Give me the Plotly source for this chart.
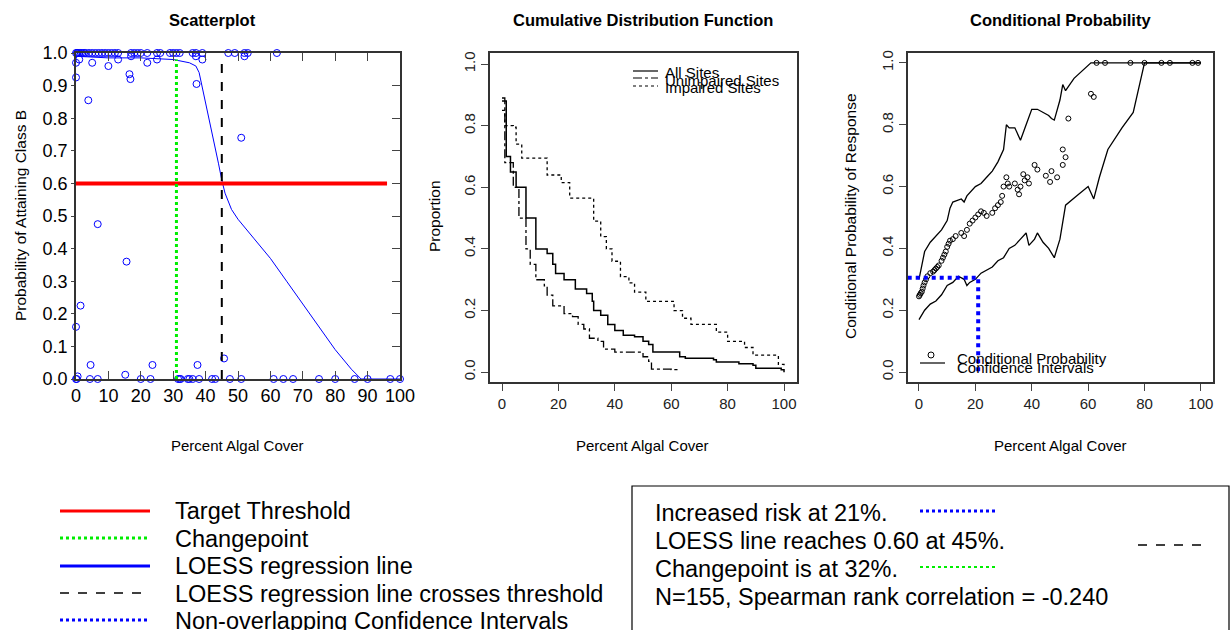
import plotly.graph_objects as go

W, H = 1230, 630
def PX(x): return x / W
def PY(y): return 1 - y / H

# ---------- data ----------
sc_x_top = [0,0.3,0.5,1,1.5,2,2.5,3,4,5,6,7,8,9,10,11,12,13,17,18,19,20,22,25,26,29,30,31,32,36,37,39,47,49,52,53,62]
sc_x_mid = [0,1,5,10,13,17,22,25,37,39,52,0,3.8,16.5,16.8,37.2,51,6.7,15.6,1.4,0,4.5,23.6,37.5,45.7,15.2,0.5]
sc_y_mid = [0.97,0.98,0.97,0.96,0.98,0.99,0.97,0.98,0.99,0.98,0.99,0.925,0.855,0.935,0.92,0.905,0.74,0.475,0.36,0.225,0.16,0.043,0.043,0.043,0.063,0.013,0.008]
sc_x_bot = [0,0.2,4.3,6.7,20,23,31.5,32,32.3,34.5,35,36,38,42,43,47.5,51,61,64,67,75,80,86,90,97,100]
loess_x = [0,10,20,30,35,37,38,40,42,44,45,46,48,50,55,60,65,70,75,80,85,88,100]
loess_y = [0.99,0.985,0.985,0.98,0.97,0.96,0.94,0.85,0.76,0.66,0.61,0.57,0.52,0.49,0.43,0.37,0.30,0.23,0.16,0.09,0.03,0.0,0.0]
target, changepoint, loess_cross, risk_x, risk_y = 0.6, 31, 45, 21, 0.305

all_x = [0,0.3,1.5,3,5,8.5,12,16,18,19,22,26,30,32,32.5,35,37.5,40,43,47,50,52,53.5,60,63,65,75,76,84,89,90,99,100]
all_y = [0.88,0.88,0.7,0.65,0.6,0.5,0.4,0.385,0.35,0.32,0.3,0.27,0.255,0.23,0.2,0.185,0.155,0.135,0.12,0.115,0.1,0.09,0.065,0.065,0.05,0.045,0.04,0.033,0.027,0.022,0.013,0.008,0.0]
un_x = [0,1,4,6,8.5,10,12,15,16,18,22,25,27,29,31,34,36,40,48,50,52,53,60,62]
un_y = [0.89,0.68,0.6,0.5,0.4,0.35,0.3,0.28,0.25,0.215,0.19,0.18,0.155,0.14,0.11,0.1,0.075,0.065,0.065,0.05,0.035,0.01,0.008,0.0]
im_x = [0,1,4,5,7,15,16,21,24,32,32.5,35,37,39,42,45,47,51,60,61,64,67,75,76,80,86,89,96,98,100]
im_y = [0.85,0.8,0.795,0.74,0.695,0.695,0.64,0.615,0.565,0.565,0.49,0.44,0.4,0.36,0.31,0.29,0.26,0.23,0.23,0.2,0.175,0.155,0.155,0.13,0.1,0.08,0.055,0.055,0.025,0.015]

cp_x = [0,0.3,0.6,1,1.3,1.6,2,2.5,3,4,5,5.5,6,6.5,7,8,8.5,9,9.5,10,10.5,11,12,13,15,16,17,18,19,20,21,22,23,24,26,27,28,29,29.5,30,31,31.5,32,34,35,35.5,36,37,37.5,38.5,39,41,42,45,46.5,47,49,51,51,52,53,61,62,63,66,75,80,86,89,97,99]
cp_y = [0.245,0.25,0.255,0.26,0.27,0.28,0.29,0.3,0.31,0.32,0.325,0.33,0.335,0.34,0.345,0.36,0.37,0.38,0.39,0.405,0.415,0.425,0.43,0.44,0.45,0.44,0.46,0.48,0.49,0.5,0.51,0.52,0.515,0.505,0.515,0.53,0.54,0.55,0.57,0.6,0.63,0.61,0.6,0.61,0.59,0.575,0.6,0.64,0.62,0.63,0.61,0.67,0.655,0.635,0.615,0.65,0.63,0.67,0.72,0.695,0.82,0.9,0.89,1,1,1,1,1,1,1,1]
up_x = [0,1,2,4,6,8,10,11,12,15,16,17,20,22,24,26,28,30,31,32,34,36,38,40,42,44,46,47,48,50,51,52,55,61,100]
up_y = [0.3,0.35,0.39,0.42,0.44,0.46,0.49,0.53,0.55,0.56,0.55,0.57,0.6,0.61,0.63,0.65,0.68,0.72,0.8,0.79,0.79,0.75,0.8,0.85,0.85,0.84,0.83,0.82,0.815,0.88,0.93,0.91,0.95,1.0,1.0]
lo_x = [0,2,4,6,8,10,12,14,16,17,18,20,22,24,26,28,30,32,34,36,38,39,41,42,44,46,48,50,52,56,60,62,64,67,72,76,80,100]
lo_y = [0.17,0.2,0.22,0.23,0.25,0.28,0.29,0.31,0.3,0.28,0.29,0.3,0.32,0.33,0.34,0.36,0.37,0.4,0.41,0.43,0.45,0.41,0.43,0.45,0.42,0.4,0.37,0.43,0.54,0.57,0.6,0.56,0.63,0.72,0.79,0.84,1.0,1.0]

FONT = "Liberation Sans, Arial"
fig = go.Figure()

blue = "#0000ff"
sx = sc_x_top + sc_x_mid + sc_x_bot
sy = [1.0]*len(sc_x_top) + sc_y_mid + [0.0]*len(sc_x_bot)
fig.add_trace(go.Scatter(x=sx, y=sy, mode="markers", marker=dict(symbol="circle-open", size=7, color=blue, line=dict(width=1)), xaxis="x", yaxis="y", cliponaxis=False))
fig.add_trace(go.Scatter(x=loess_x, y=loess_y, mode="lines", line=dict(color=blue, width=1), xaxis="x", yaxis="y"))
fig.add_trace(go.Scatter(x=[0, 96], y=[target, target], mode="lines", line=dict(color="red", width=4), xaxis="x", yaxis="y"))
fig.add_trace(go.Scatter(x=[changepoint]*2, y=[0, 0.98], mode="lines", line=dict(color="#00ee00", width=3, dash="dot"), xaxis="x", yaxis="y"))
fig.add_trace(go.Scatter(x=[loess_cross]*2, y=[0, 0.97], mode="lines", line=dict(color="black", width=2, dash="dash"), xaxis="x", yaxis="y"))

fig.add_trace(go.Scatter(x=all_x, y=all_y, mode="lines", line=dict(color="black", width=1.5, shape="hv"), xaxis="x3", yaxis="y3"))
fig.add_trace(go.Scatter(x=un_x, y=un_y, mode="lines", line=dict(color="black", width=1.3, shape="hv", dash="dashdot"), xaxis="x3", yaxis="y3"))
fig.add_trace(go.Scatter(x=im_x, y=im_y, mode="lines", line=dict(color="black", width=1.3, shape="hv", dash="dot"), xaxis="x3", yaxis="y3"))

fig.add_trace(go.Scatter(x=up_x, y=up_y, mode="lines", line=dict(color="black", width=1.3), xaxis="x4", yaxis="y4"))
fig.add_trace(go.Scatter(x=lo_x, y=lo_y, mode="lines", line=dict(color="black", width=1.3), xaxis="x4", yaxis="y4"))
fig.add_trace(go.Scatter(x=cp_x, y=cp_y, mode="markers", marker=dict(symbol="circle-open", size=5, color="black", line=dict(width=1)), xaxis="x4", yaxis="y4", cliponaxis=False))
fig.add_trace(go.Scatter(x=[-4, risk_x, risk_x], y=[risk_y, risk_y, -0.005], mode="lines", line=dict(color=blue, width=4, dash="dot"), xaxis="x4", yaxis="y4"))
fig.add_trace(go.Scatter(x=[None], y=[None], xaxis="x2", yaxis="y2"))

tick1 = dict(family=FONT, size=18, color="black")
tick2 = dict(family=FONT, size=15, color="#222")
common = dict(showgrid=False, zeroline=False, automargin=False, linecolor="#333", showline=True, linewidth=1.5)
fig.update_layout(
    width=W, height=H, margin=dict(l=0, r=0, t=0, b=0, autoexpand=False), showlegend=False,
    plot_bgcolor="white", paper_bgcolor="white",
    xaxis=dict(domain=[PX(76), PX(400)], range=[0, 100], tickvals=list(range(0, 101, 10)), ticks="inside", ticklen=8, tickfont=tick1, anchor="y", **common),
    yaxis=dict(domain=[PY(379), PY(53)], range=[0, 1], tickvals=[i/10 for i in range(11)], ticktext=[f"{i/10:.1f}" for i in range(11)],
               ticks="outside", ticklen=3, tickfont=tick1, anchor="x", **common),
    xaxis2=dict(domain=[PX(76), PX(400)], range=[0, 100], tickvals=list(range(0, 101, 10)), ticks="inside", ticklen=8, side="top",
                showticklabels=False, anchor="y2", overlaying="x", **common),
    yaxis2=dict(domain=[PY(379), PY(53)], range=[0, 1], tickvals=[i/10 for i in range(11)], ticks="inside", ticklen=8, side="right",
                showticklabels=False, anchor="x2", overlaying="y", **common),
    xaxis3=dict(domain=[PX(490), PX(797)], range=[-4.26, 104.6], tickvals=list(range(0, 101, 20)), ticks="outside", ticklen=7,
                mirror=True, tickfont=tick2, anchor="y3", **common),
    yaxis3=dict(domain=[PY(382), PY(53)], range=[-0.032, 1.036], tickvals=[0, 0.2, 0.4, 0.6, 0.8, 1.0], ticktext=["0.0","0.2","0.4","0.6","0.8","1.0"],
                tickangle=-90, ticks="outside", ticklen=7, mirror=True, tickfont=tick2, anchor="x3", **common),
    xaxis4=dict(domain=[PX(908), PX(1213)], range=[-3.9, 104.3], tickvals=list(range(0, 101, 20)), ticks="outside", ticklen=7,
                mirror=True, tickfont=tick2, anchor="y4", **common),
    yaxis4=dict(domain=[PY(382), PY(53)], range=[-0.032, 1.032], tickvals=[0, 0.2, 0.4, 0.6, 0.8, 1.0], ticktext=["0.0","0.2","0.4","0.6","0.8","1.0"],
                tickangle=-90, ticks="outside", ticklen=7, mirror=True, tickfont=tick2, anchor="x4", **common),
)

ann = []
def T(x, y, s, size=13, bold=False, xa="center", angle=0):
    ann.append(dict(x=PX(x), y=PY(y), xref="paper", yref="paper", text=f"<b>{s}</b>" if bold else s, showarrow=False,
                    xanchor=xa, yanchor="middle", textangle=angle, font=dict(family=FONT, size=size, color="black")))
T(213, 20, "Scatterplot", 16.5, True)
T(643, 20, "Cumulative Distribution Function", 16.5, True)
T(1060, 20, "Conditional Probability", 16.5, True)
T(238, 445, "Percent Algal Cover", 15)
T(643, 445, "Percent Algal Cover", 15)
T(1060, 445, "Percent Algal Cover", 15)
T(20, 216, "Probability of Attaining Class B", 15.5, angle=-90)
T(434, 216, "Proportion", 15.5, angle=-90)
T(850, 216, "Conditional Probability of Response", 15.5, angle=-90)
T(663, 72, "All Sites", 15, xa="left")
T(663, 80, "Unimpaired Sites", 15, xa="left")
T(663, 88, "Impaired Sites", 15, xa="left")
T(955, 358, "Conditional Probability", 15, xa="left")
T(955, 367, "Confidence Intervals", 15, xa="left")
leg = ["Target Threshold", "Changepoint", "LOESS regression line", "LOESS regression line crosses threshold", "Non-overlapping Confidence Intervals"]
for i, s in enumerate(leg):
    T(173, 511 + i*27.5, s, 23.5, xa="left")
box = ["Increased risk at 21%.", "LOESS line reaches 0.60 at 45%.", "Changepoint is at 32%.", "N=155, Spearman rank correlation = -0.240"]
for i, s in enumerate(box):
    T(653, 513 + i*28, s, 23.5, xa="left")
fig.update_layout(annotations=ann)

shapes = []
def L(x0, x1, y, color, w, dash="solid"):
    shapes.append(dict(type="line", xref="paper", yref="paper", x0=PX(x0), x1=PX(x1), y0=PY(y), y1=PY(y), line=dict(color=color, width=w, dash=dash)))
L(60, 150, 511, "red", 3)
L(60, 150, 538, "#00ee00", 3, "dot")
L(60, 150, 566, blue, 3)
L(60, 150, 593, "black", 1.5, "dash")
L(60, 150, 620, blue, 3, "dot")
L(920, 995, 511, blue, 3, "dot")
L(1138, 1210, 545, "black", 1.5, "dash")
L(920, 995, 567, "#00ee00", 2, "dot")
L(633, 658, 71, "black", 1.2)
L(633, 658, 78, "black", 1.2, "dashdot")
L(633, 658, 86, "black", 1.2, "dot")
L(920, 945, 363, "black", 1.2)
shapes.append(dict(type="circle", xref="paper", yref="paper", x0=PX(928), x1=PX(934), y0=PY(352), y1=PY(358), line=dict(color="black", width=1)))
shapes.append(dict(type="rect", xref="paper", yref="paper", x0=PX(632), x1=PX(1229), y0=PY(486), y1=PY(640), line=dict(color="black", width=1.2)))
fig.update_layout(shapes=shapes)

fig.write_html("out.html", config={"displayModeBar": False},
               post_script="document.body.style.margin='0';document.body.style.overflow='hidden';")
